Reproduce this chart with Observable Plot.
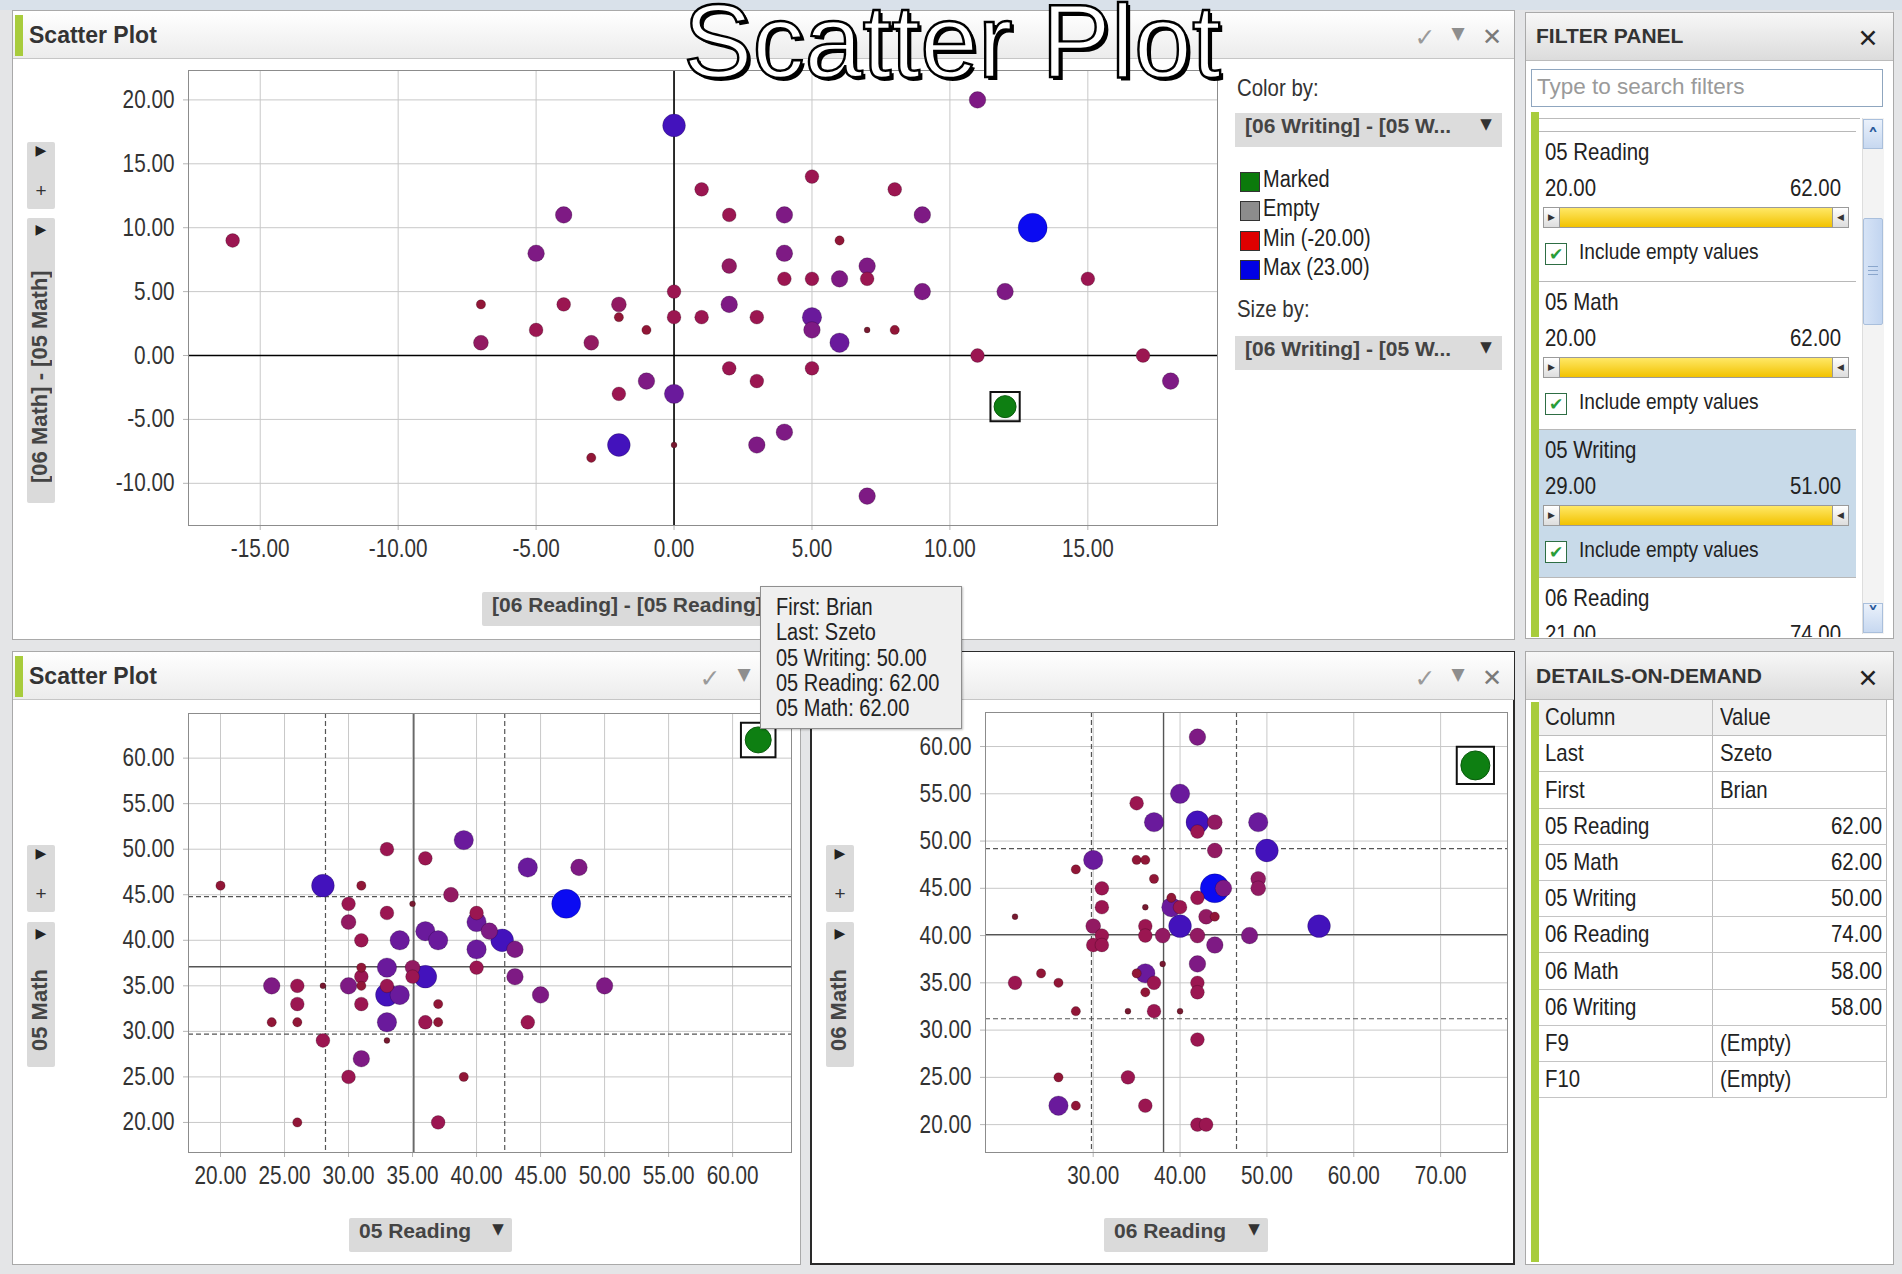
<!DOCTYPE html>
<html><head><meta charset="utf-8">
<script src="https://cdn.jsdelivr.net/npm/d3@7"></script>
<script src="https://cdn.jsdelivr.net/npm/@observablehq/plot@0.6"></script>
<style>
body{margin:0;background:#e4e5e7;}
#root{position:relative;width:1902px;height:1274px;overflow:hidden;background:#e4e5e7;color:#222;font-family:"Liberation Sans",Arial,sans-serif;}
#root svg{position:absolute;}
</style></head>
<body><div id="root"></div>
<script>
// ---------------- data ----------------
// [x, y, w]  where w = [06 Writing] - [05 Writing] (colour + size)
const topPoints = [
 [11,20,1],[0,18,12],[5,14,-4],[1,13,-4],[8,13,-4],[-4,11,1],[2,11,-4],[4,11,1],[9,11,1],[13,10,23],
 [6,9,-12],[-5,8,1],[4,8,1],[2,7,-2],[7,7,1],[4,6,-4],[5,6,-4],[6,6,1],[7,6,-4],[15,6,-4],
 [0,5,-4],[9,5,1],[12,5,1],[-7,4,-12],[-4,4,-4],[-2,4,-2],[-2,3,-12],[2,4,1],[0,3,-4],[1,3,-4],
 [3,3,-4],[5,3,6],[5,2,1],[-5,2,-4],[-1,2,-12],[7,2,-18],[8,2,-12],[-7,1,-2],[-3,1,-2],[6,1,6],
 [11,0,-4],[17,0,-4],[2,-1,-4],[5,-1,-4],[-1,-2,1],[3,-2,-4],[18,-2,1],[-2,-3,-4],[0,-3,6],[4,-6,1],
 [-2,-7,12],[0,-7,-18],[3,-7,1],[-3,-8,-12],[7,-11,1],[-16,9,-4]
];
const topMarked = [12,-4];
const topXTicks = [-15,-10,-5,0,5,10,15];
const topYTicks = [-10,-5,0,5,10,15,20];
const topZero = [0];

const blPoints = [
 [20,46,-12],[28,46,12],[31,46,-12],[33,50,-4],[36,49,-4],[39,51,6],[44,48,6],[48,48,1],[47,44,23],[38,45,-2],
 [35,44,-18],[30,44,-4],[33,43,-4],[30,42,-2],[31,40,-4],[34,40,6],[36,41,6],[37,40,6],[40,43,-4],[40,42,6],
 [41,41,1],[42,40,12],[43,39,1],[40,39,6],[40,37,-4],[43,36,1],[45,34,1],[50,35,1],[44,31,-4],[33,37,6],
 [35,37,-2],[35,36,-4],[36,36,12],[31,37,-12],[31,36,-4],[31,35,-12],[30,35,1],[28,35,-18],[26,35,-4],[24,35,1],
 [26,33,-4],[24,31,-12],[26,31,-12],[31,33,-4],[33,35,-4],[33,34,12],[34,34,6],[33,31,6],[33,29,-18],[36,31,-4],
 [37,33,-12],[37,31,-12],[28,29,-4],[31,27,1],[30,25,-4],[39,25,-12],[26,20,-12],[37,20,-4]
];
const blMarked = [62,62];
const blXTicks = [20,25,30,35,40,45,50,55,60];
const blYTicks = [20,25,30,35,40,45,50,55,60];
const blRefX = [28.2,35.1,42.2];   // mean - sd, mean, mean + sd
const blRefY = [29.7,37.1,44.8];

const brPoints = [
 [42,61,1],[40,55,6],[35,54,-4],[37,52,6],[42,52,12],[42,51,-4],[44,52,-2],[49,52,6],[50,49,12],[44,49,-2],
 [30,48,6],[35,48,-12],[36,48,-12],[28,47,-12],[37,46,-12],[31,45,-4],[44,45,23],[45,45,1],[49,46,-2],[49,45,-2],
 [42,44,-4],[39,44,-12],[39,43,6],[40,43,-4],[36,43,-18],[31,43,-4],[43,42,-2],[44,42,-12],[21,42,-18],[30,41,-2],
 [31,40,-4],[30,39,-4],[31,39,-4],[36,41,-4],[36,40,-4],[38,40,-2],[40,41,12],[42,40,-2],[48,40,1],[56,41,12],
 [44,39,1],[38,37,-18],[42,37,1],[35,36,-12],[36,36,6],[37,35,-4],[24,36,-12],[26,35,-12],[21,35,-4],[42,35,-4],
 [42,34,-4],[36,34,-12],[28,32,-12],[34,32,-18],[37,32,-4],[40,32,-18],[42,29,-4],[26,25,-12],[34,25,-4],[26,22,6],
 [28,22,-12],[36,22,-4],[42,20,-4],[43,20,-4]
];
const brMarked = [74,58];
const brXTicks = [30,40,50,60,70];
const brYTicks = [20,25,30,35,40,45,50,55,60];
const brRefX = [29.8,38.1,46.5];
const brRefY = [31.2,40.1,49.2];

const legendLabels = ["Marked","Empty","Min (-20.00)","Max (23.00)"];
const legendColors = ["#0b7a0b","#8c8c8c","#e00000","#0000e6"];
const tooltipLines = ["First: Brian","Last: Szeto","05 Writing: 50.00","05 Reading: 62.00","05 Math: 62.00"];
const filterNames = ["05 Reading","05 Math","05 Writing","06 Reading"];
const filterMin = ["20.00","20.00","29.00","21.00"];
const filterMax = ["62.00","62.00","51.00","74.00"];
const detailCols = ["Last","First","05 Reading","05 Math","05 Writing","06 Reading","06 Math","06 Writing","F9","F10"];
const detailVals = ["Szeto","Brian","62.00","62.00","50.00","74.00","58.00","58.00","(Empty)","(Empty)"];

// ---------------- helpers ----------------
const SANS = '"Liberation Sans",Arial,sans-serif';
const SX = 0.85;   // horizontal squeeze of the narrow UI text
const root = document.getElementById("root");
function box(x,y,w,h,css={},text="",parent=root){
  const d=document.createElement("div");
  d.style.position="absolute"; d.style.left=x+"px"; d.style.top=y+"px";
  if(w!=null) d.style.width=w+"px"; if(h!=null) d.style.height=h+"px";
  d.style.boxSizing="border-box";
  Object.assign(d.style,css); if(text) d.textContent=text; parent.appendChild(d); return d;
}
function T(x,cy,s,css={},parent=root,mode="l"){
  const narrow = css.narrow!==false && !/bold/.test(css.font||"");
  const c=Object.assign({lineHeight:"32px",whiteSpace:"nowrap",font:`24px ${SANS}`,color:"#222"},css); delete c.narrow;
  const d=box(x,cy-16,null,32,c,s,parent);
  const sc = narrow?` scaleX(${SX})`:"";
  if(mode==="l"){ d.style.transformOrigin="left center"; d.style.transform=sc.trim()||"none"; }
  if(mode==="c"){ d.style.transformOrigin="center center"; d.style.transform="translateX(-50%)"+sc; }
  if(mode==="r"){ d.style.left=""; const pw=parent===root?1902:parseFloat(parent.style.width); d.style.right=(pw-x)+"px"; d.style.transformOrigin="right center"; d.style.transform=sc.trim()||"none"; }
  return d;
}
const TR=(x,cy,s,css={},p=root)=>T(x,cy,s,css,p,"r");
const TC=(x,cy,s,css={},p=root)=>T(x,cy,s,Object.assign({narrow:false},css),p,"c");

function panel(x,y,w,h,title,icons,border){
  box(x,y,w,h,{background:"#fff",border:border||"1px solid #a9a9a9"});
  box(x+1,y+1,w-2,48,{background:"linear-gradient(#ffffff,#ececec)",borderBottom:"1px solid #c6c6c6"});
  box(x+3,y+5,8,41,{background:"#a8cc3c"});
  if(title) T(x+17,y+28,title,{font:`bold 23px ${SANS}`,color:"#333"});
  const g=["\u2713","\u25BC","\u2715"];
  const f=['25px "DejaVu Sans",sans-serif','17px "DejaVu Sans",sans-serif','bold 24px "DejaVu Sans",sans-serif'];
  const col=["#9a9a9a","#8e8e8e","#7a7a7a"];
  icons.forEach((ix,i)=>TC(ix,y+29,g[i],{font:f[i],color:col[i]}));
}
function sideBoxes(x,label,y1,y2,y2b){
  box(x,y1,28,67,{background:"#dadada",borderRadius:"2px"});
  TC(x+14,y1+16,"\u25B6",{font:'14px "DejaVu Sans",sans-serif',color:"#222"});
  TC(x+14,y1+54,"+",{font:`19px ${SANS}`,color:"#333"});
  box(x,y2,28,y2b-y2,{background:"#dadada",borderRadius:"2px"});
  TC(x+14,y2+19,"\u25B6",{font:'14px "DejaVu Sans",sans-serif',color:"#222"});
  box(x,y2+34,28,y2b-y2-36,{writingMode:"vertical-rl",transform:"rotate(180deg)",textAlign:"center",lineHeight:"28px",font:`bold 22px ${SANS}`,color:"#444",whiteSpace:"nowrap"},label);
}
function xLabel(x,y,w,label,arrow){
  box(x,y,w,34,{background:"#dadada",borderRadius:"2px"});
  T(x+10,y+17,label,{font:`bold 21px ${SANS}`,color:"#444"});
  if(arrow) TC(x+w-14,y+18,"\u25BC",{font:'15px "DejaVu Sans",sans-serif',color:"#333"});
}

const fmt = d => d.toFixed(2);
function scatter(o){
  const data=o.points.map(([x,y,w])=>({x,y,w}));
  const mk=[{x:o.marked[0],y:o.marked[1]}];
  const marks=[
    Plot.gridX({ticks:o.xTicks,stroke:"#c8c8c8",strokeOpacity:1}),
    Plot.gridY({ticks:o.yTicks,stroke:"#c8c8c8",strokeOpacity:1}),
    Plot.axisX({ticks:o.xTicks,tickFormat:fmt,tickSize:5,tickPadding:9,fontSize:25,stroke:"#b5b5b5",fill:"#333"}),
    Plot.axisY({ticks:o.yTicks,tickFormat:fmt,tickSize:5,tickPadding:9,fontSize:25,stroke:"#b5b5b5",fill:"#333"})
  ];
  if(o.zero){ marks.push(Plot.ruleX(o.zero,{stroke:"#000",strokeWidth:1.6}), Plot.ruleY(o.zero,{stroke:"#000",strokeWidth:1.6})); }
  if(o.refX){
    marks.push(Plot.ruleX([o.refX[0],o.refX[2]],{stroke:"#555",strokeWidth:1.2,strokeDasharray:"5,3"}));
    marks.push(Plot.ruleY([o.refY[0],o.refY[2]],{stroke:"#555",strokeWidth:1.2,strokeDasharray:"5,3"}));
    marks.push(Plot.ruleX([o.refX[1]],{stroke:"#555",strokeWidth:1.4}));
    marks.push(Plot.ruleY([o.refY[1]],{stroke:"#555",strokeWidth:1.4}));
  }
  marks.push(Plot.frame({stroke:"#8c8c8c"}));
  marks.push(Plot.dot(data,{x:"x",y:"y",r:"w",fill:"w",stroke:"#000",strokeOpacity:0.2,strokeWidth:1}));
  marks.push(Plot.dot(mk,{x:"x",y:"y",r:o.markR,fill:"#0e7f12",stroke:"#0a5c0d",strokeWidth:1}));
  marks.push(Plot.dot(mk,{x:"x",y:"y",symbol:"square",r:o.boxR,fill:"none",stroke:"#111",strokeWidth:2}));
  const svg=Plot.plot({
    width:o.width,height:o.height,
    marginLeft:o.ml,marginTop:o.mt,marginRight:o.mr,marginBottom:o.mb,
    x:{domain:o.xDomain,label:null},
    y:{domain:o.yDomain,label:null},
    r:{type:"linear",domain:[-20,23],range:[2.4,14.5]},
    color:{type:"linear",domain:[-20,-13,-5,-2,1,6,12,23],range:["#6e1a2e","#8f1634","#a01448","#921a62","#7e1a84","#6a1a9c","#4312bc","#0b0bf2"],interpolate:"rgb"},
    style:{fontFamily:SANS,fontSize:"25px",background:"transparent",overflow:"visible",color:"#333"},
    marks
  });
  svg.style.left=o.left+"px"; svg.style.top=o.top+"px";
  root.appendChild(svg);
  // narrow the tick labels like the original UI font
  svg.querySelectorAll("text").forEach(t=>{
    const w=t.getComputedTextLength();
    if(w>0){ t.setAttribute("textLength",(w*0.83).toFixed(1)); t.setAttribute("lengthAdjust","spacingAndGlyphs"); }
  });
}

// ---------------- background ----------------
box(0,0,1902,10,{background:"#d9e1ea"});

// ---------------- top scatter panel ----------------
panel(12,10,1503,630,"Scatter Plot",[1425,1458,1492]);
scatter({points:topPoints,marked:topMarked,xTicks:topXTicks,yTicks:topYTicks,zero:topZero,
  xDomain:[-17.6,19.7],yDomain:[-13.3,22.3],left:60,top:60,width:1167,height:515,ml:128,mt:10,mr:10,mb:50,markR:11,boxR:16.5});
sideBoxes(27,"[06 Math] - [05 Math]",142,218,503);
xLabel(482,592,290,"[06 Reading] - [05 Reading]",false);
// legend
T(1237,90,"Color by:",{font:`24px ${SANS}`,color:"#333"});
box(1235,113,267,34,{background:"#dcdcdc"});
T(1245,130,"[06 Writing] - [05 W...",{font:`bold 21px ${SANS}`,color:"#444"});
TC(1486,131,"\u25BC",{font:'15px "DejaVu Sans",sans-serif',color:"#333"});
legendLabels.forEach((l,i)=>{
  const cy=[182,211,241,270][i];
  box(1240,cy-10,20,20,{background:legendColors[i],border:"1px solid #333"});
  T(1263,cy,l,{font:`23.5px ${SANS}`,color:"#222"});
});
T(1237,311,"Size by:",{font:`24px ${SANS}`,color:"#333"});
box(1235,336,267,34,{background:"#dcdcdc"});
T(1245,353,"[06 Writing] - [05 W...",{font:`bold 21px ${SANS}`,color:"#444"});
TC(1486,354,"\u25BC",{font:'15px "DejaVu Sans",sans-serif',color:"#333"});

// ---------------- bottom-left scatter panel ----------------
panel(12,651,789,614,"Scatter Plot",[710,744,778]);
scatter({points:blPoints,marked:blMarked,xTicks:blXTicks,yTicks:blYTicks,refX:blRefX,refY:blRefY,
  xDomain:[17.5,64.6],yDomain:[16.7,64.9],left:60,top:705,width:739,height:497,ml:128,mt:8,mr:8,mb:50,markR:13,boxR:19.5});
sideBoxes(27,"05 Math",845,922,1067);
xLabel(349,1218,163,"05 Reading",true);

// ---------------- bottom-right scatter panel ----------------
panel(810,651,705,614,"",[1425,1458,1492],"2px solid #2a2a2a");
scatter({points:brPoints,marked:brMarked,xTicks:brXTicks,yTicks:brYTicks,refX:brRefX,refY:brRefY,
  xDomain:[17.6,77.7],yDomain:[17.05,63.6],left:870,top:704,width:643,height:498,ml:115,mt:8,mr:6,mb:50,markR:14.5,boxR:21});
sideBoxes(826,"06 Math",845,922,1067);
xLabel(1104,1218,164,"06 Reading",true);

// ---------------- tooltip ----------------
const tip=box(760,586,202,143,{background:"#efefef",border:"1px solid #8f8f8f",zIndex:5,boxShadow:"1px 1px 2px rgba(0,0,0,0.25)"});
tooltipLines.forEach((l,i)=>T(15,23+i*25.3,l,{font:`23.5px ${SANS}`,color:"#222"},tip));

// ---------------- filter panel ----------------
box(1525,12,369,627,{background:"#fff",border:"1px solid #a9a9a9"});
box(1526,13,367,48,{background:"linear-gradient(#f7f7f7,#dcdcdc)",borderBottom:"1px solid #bbb"});
T(1536,40,"FILTER PANEL",{font:`bold 21px ${SANS}`,color:"#333"});
TC(1868,40,"\u2715",{font:'bold 25px "DejaVu Sans",sans-serif',color:"#222"});
box(1531,69,352,38,{background:"#fff",border:"1px solid #8fa6bf"});
T(1537,90,"Type to search filters",{font:`22.5px ${SANS}`,color:"#9a9a9a",narrow:false});
box(1531,112,8,525,{background:"#a8cc3c"});
const fc=box(1539,112,321,525,{overflow:"hidden",background:"#fff"});
box(0,6,321,1,{background:"#bbb"},"",fc);
filterNames.forEach((n,i)=>{
  const s=[131,281,429,577][i]-112;
  if(i===2) box(0,s,317,148,{background:"#c8dae9"},"",fc);
  box(0,s,317,1,{background:"#b8b8b8"},"",fc);
  T(6,s+23,n,{font:`24px ${SANS}`,color:"#222"},fc);
  T(6,s+59,filterMin[i],{font:`24px ${SANS}`,color:"#222"},fc);
  TR(302,s+59,filterMax[i],{font:`24px ${SANS}`,color:"#222"},fc);
  const sl=box(4,s+76,306,21,{background:"linear-gradient(#ffe866,#f2c200)",border:"1px solid #9a9a9a"},"",fc);
  box(0,0,16,19,{background:"linear-gradient(#fff,#ddd)",borderRight:"1px solid #999",font:'9px "DejaVu Sans"',textAlign:"center",lineHeight:"19px",color:"#333"},"\u25B6",sl);
  box(288,0,16,19,{background:"linear-gradient(#fff,#ddd)",borderLeft:"1px solid #999",font:'9px "DejaVu Sans"',textAlign:"center",lineHeight:"19px",color:"#333"},"\u25C0",sl);
  box(6,s+112,22,22,{background:"#fff",border:"1px solid #2e6e44",font:'bold 17px "DejaVu Sans"',color:"#2a9d38",textAlign:"center",lineHeight:"20px"},"\u2714",fc);
  T(40,s+124,"Include empty values",{font:`22.5px ${SANS}`,color:"#222"},fc);
});
// scrollbar
box(1862,118,22,516,{background:"#f3f3f3",borderLeft:"1px solid #ddd"});
box(1863,119,20,30,{background:"linear-gradient(#eaf1fb,#c7d8f0)",border:"1px solid #a9bfdc",font:'bold 22px "DejaVu Sans"',color:"#2a5a9a",textAlign:"center",lineHeight:"34px"},"\u02C4");
box(1863,218,20,107,{background:"linear-gradient(90deg,#d6e3f6,#c2d5f0)",border:"1px solid #a9bfdc",borderRadius:"2px"});
box(1868,266,10,1,{background:"#8aa6cc"}); box(1868,270,10,1,{background:"#8aa6cc"}); box(1868,274,10,1,{background:"#8aa6cc"});
box(1863,603,20,30,{background:"linear-gradient(#eaf1fb,#c7d8f0)",border:"1px solid #a9bfdc",font:'bold 22px "DejaVu Sans"',color:"#2a5a9a",textAlign:"center",lineHeight:"22px"},"\u02C5");

// ---------------- details on demand ----------------
box(1525,651,369,614,{background:"#fff",border:"1px solid #a9a9a9"});
box(1526,652,367,48,{background:"linear-gradient(#f7f7f7,#dcdcdc)",borderBottom:"1px solid #bbb"});
T(1536,680,"DETAILS-ON-DEMAND",{font:`bold 21px ${SANS}`,color:"#333"});
TC(1868,680,"\u2715",{font:'bold 25px "DejaVu Sans",sans-serif',color:"#222"});
box(1531,702,8,560,{background:"#a8cc3c"});
const rowH=36.2, t0=700;
box(1539,t0,348,rowH,{background:"#f0f0f0",borderBottom:"1px solid #bdbdbd"});
box(1712,t0,1,rowH*11,{background:"#bdbdbd"});
box(1886,t0,1,rowH*11,{background:"#bdbdbd"});
T(1545,t0+rowH/2+1,"Column",{font:`24px ${SANS}`});
T(1720,t0+rowH/2+1,"Value",{font:`24px ${SANS}`});
detailCols.forEach((c,i)=>{
  const y=t0+rowH*(i+1);
  box(1539,y+rowH-1,348,1,{background:"#c4c4c4"});
  T(1545,y+rowH/2+1,c,{font:`24px ${SANS}`});
  const v=detailVals[i];
  if(/^[0-9.]+$/.test(v)) TR(1882,y+rowH/2+1,v,{font:`24px ${SANS}`});
  else T(1720,y+rowH/2+1,v,{font:`24px ${SANS}`});
});

// ---------------- overlay title ----------------
box(952,-11,null,null,{transform:"translateX(-50%)",font:`104px ${SANS}`,lineHeight:"1",color:"#fff",WebkitTextStroke:"2.4px #000",textShadow:"3px 3px 0 #000",whiteSpace:"nowrap",zIndex:10},"Scatter Plot");
</script></body></html>
